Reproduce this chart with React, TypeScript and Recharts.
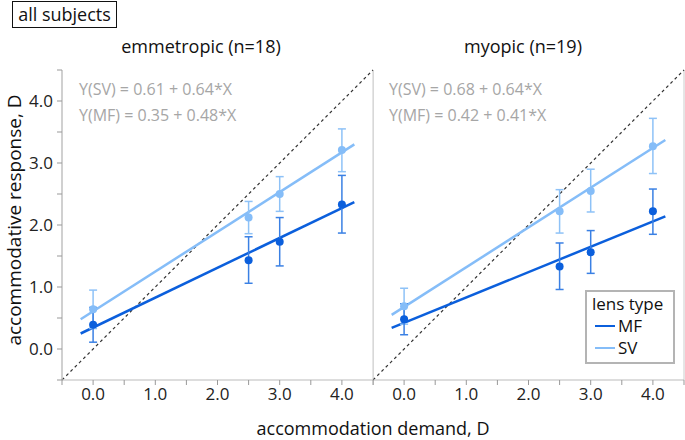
import React from 'react';
import { ComposedChart, Scatter, Line, XAxis, YAxis, ErrorBar, ReferenceLine } from 'recharts';

// accommodation demand (D) for every measurement
const demand = [0, 2.5, 3, 4];

// emmetropic group (n=18)
const emmMF = [0.39, 1.43, 1.73, 2.33];
const emmMFLow = [0.11, 1.06, 1.34, 1.87];
const emmMFHigh = [0.67, 1.81, 2.12, 2.8];
const emmSV = [0.64, 2.12, 2.5, 3.21];
const emmSVLow = [0.33, 1.86, 2.22, 2.86];
const emmSVHigh = [0.95, 2.38, 2.78, 3.55];

// myopic group (n=19)
const myoMF = [0.48, 1.33, 1.56, 2.22];
const myoMFLow = [0.23, 0.96, 1.22, 1.85];
const myoMFHigh = [0.73, 1.71, 1.91, 2.58];
const myoSV = [0.69, 2.22, 2.55, 3.27];
const myoSVLow = [0.4, 1.87, 2.21, 2.83];
const myoSVHigh = [0.98, 2.57, 2.9, 3.72];

// regression line end points
const fitX = [-0.2, 4.2];
const emmFitSV = [0.48, 3.3];
const emmFitMF = [0.25, 2.37];
const myoFitSV = [0.55, 3.37];
const myoFitMF = [0.34, 2.14];

const axisTicks = [-0.5, 0, 0.5, 1, 1.5, 2, 2.5, 3, 3.5, 4, 4.5];
const lensTypes = ['MF', 'SV'];

const MF_COLOR = '#0b5fdc';
const MF_BAR = '#3a80e4';
const SV_COLOR = '#85bdf8';
const SV_BAR = '#8ec2f7';
const FONT = '"Open Sans", "Noto Sans", sans-serif';

const points = (ys: number[], lo: number[], hi: number[]) =>
  demand.map((x, i) => ({ x, y: ys[i], err: [ys[i] - lo[i], hi[i] - ys[i]] }));

const fitLine = (ys: number[]) => fitX.map((x, i) => ({ x, y: ys[i] }));

const fmt = (v: number) => (Number.isInteger(v) ? v.toFixed(1) : '');

const dot = (color: string) => (p: any) => <circle cx={p.cx} cy={p.cy} r={4} fill={color} />;

const LegendBox = () => (
  <div
    style={{
      position: 'absolute',
      left: 585,
      top: 290,
      width: 81,
      border: '2px solid #b4b4b4',
      background: '#fff',
      padding: '1px 0 3px 5px',
      fontSize: 17,
      lineHeight: '22px',
      color: '#111',
    }}
  >
    <div>lens type</div>
    {lensTypes.map((name, i) => (
      <div key={name} style={{ display: 'flex', alignItems: 'center' }}>
        <span
          style={{
            display: 'inline-block',
            width: 20,
            height: 2.5,
            background: i === 0 ? MF_COLOR : SV_COLOR,
            margin: '0 3px 0 3px',
          }}
        />
        {name}
      </div>
    ))}
  </div>
);

interface PanelProps {
  mf: any[];
  sv: any[];
  fitMF: any[];
  fitSV: any[];
  width: number;
  showY: boolean;
}

const Panel: React.FC<PanelProps> = ({ mf, sv, fitMF, fitSV, width, showY }) => (
  <ComposedChart
    width={width}
    height={440}
    margin={{ top: 70, right: showY ? 7 : 1, bottom: 30, left: 0 }}
  >
    <XAxis
      type="number"
      dataKey="x"
      domain={[-0.5, 4.5]}
      ticks={axisTicks}
      interval={0}
      allowDataOverflow
      tickFormatter={fmt}
      height={30}
      tickSize={5}
      tickMargin={3}
      axisLine={{ stroke: '#bbb' }}
      tickLine={{ stroke: '#999' }}
      tick={{ fontSize: 17, fill: '#222', fontFamily: FONT }}
    />
    <YAxis
      type="number"
      domain={[-0.5, 4.5]}
      ticks={axisTicks}
      interval={0}
      allowDataOverflow
      hide={!showY}
      width={62}
      tickFormatter={fmt}
      tickSize={5}
      tickMargin={4}
      axisLine={{ stroke: '#bbb' }}
      tickLine={{ stroke: '#999' }}
      tick={{ fontSize: 17, fill: '#222', fontFamily: FONT }}
    />
    <ReferenceLine x={-0.5} stroke="#ccc" />
    <ReferenceLine x={4.5} stroke="#ccc" />
    <ReferenceLine
      segment={[
        { x: -0.5, y: -0.5 },
        { x: 4.5, y: 4.5 },
      ]}
      stroke="#333"
      strokeDasharray="3 3"
      strokeWidth={1.2}
    />
    <Line data={fitSV} dataKey="y" type="linear" stroke={SV_COLOR} strokeWidth={2.5} dot={false} isAnimationActive={false} />
    <Line data={fitMF} dataKey="y" type="linear" stroke={MF_COLOR} strokeWidth={2.5} dot={false} isAnimationActive={false} />
    <Scatter data={sv} dataKey="y" shape={dot(SV_COLOR)} isAnimationActive={false}>
      <ErrorBar dataKey="err" direction="y" width={4} stroke={SV_BAR} strokeWidth={1.5} />
    </Scatter>
    <Scatter data={mf} dataKey="y" shape={dot(MF_COLOR)} isAnimationActive={false}>
      <ErrorBar dataKey="err" direction="y" width={4} stroke={MF_BAR} strokeWidth={1.5} />
    </Scatter>
  </ComposedChart>
);

const eqStyle: React.CSSProperties = {
  position: 'absolute',
  fontSize: 16,
  color: '#a6a6a6',
  whiteSpace: 'nowrap',
};

const titleStyle: React.CSSProperties = {
  position: 'absolute',
  top: 34,
  fontSize: 18,
  color: '#111',
  whiteSpace: 'nowrap',
  transform: 'translateX(-50%)',
};

export default function App() {
  return (
    <div
      style={{
        position: 'absolute',
        left: 0,
        top: 0,
        width: 685,
        height: 440,
        background: '#fff',
        fontFamily: FONT,
        overflow: 'hidden',
      }}
    >
      <div style={{ position: 'absolute', left: 0, top: 0 }}>
        <Panel
          mf={points(emmMF, emmMFLow, emmMFHigh)}
          sv={points(emmSV, emmSVLow, emmSVHigh)}
          fitMF={fitLine(emmFitMF)}
          fitSV={fitLine(emmFitSV)}
          width={380}
          showY
        />
      </div>
      <div style={{ position: 'absolute', left: 373, top: 0 }}>
        <Panel
          mf={points(myoMF, myoMFLow, myoMFHigh)}
          sv={points(myoSV, myoSVLow, myoSVHigh)}
          fitMF={fitLine(myoFitMF)}
          fitSV={fitLine(myoFitSV)}
          width={312}
          showY={false}
        />
      </div>

      <LegendBox />

      <div
        style={{
          position: 'absolute',
          left: 12,
          top: 1,
          width: 103,
          height: 25,
          border: '1px solid #111',
          fontSize: 18,
          lineHeight: '25px',
          textAlign: 'center',
          color: '#111',
        }}
      >
        all subjects
      </div>

      <div style={{ ...titleStyle, left: 201 }}>emmetropic (n=18)</div>
      <div style={{ ...titleStyle, left: 523 }}>myopic (n=19)</div>

      <div style={{ ...eqStyle, left: 79, top: 78 }}>Y(SV) = 0.61 + 0.64*X</div>
      <div style={{ ...eqStyle, left: 79, top: 104 }}>Y(MF) = 0.35 + 0.48*X</div>
      <div style={{ ...eqStyle, left: 389, top: 78 }}>Y(SV) = 0.68 + 0.64*X</div>
      <div style={{ ...eqStyle, left: 389, top: 104 }}>Y(MF) = 0.42 + 0.41*X</div>

      <div
        style={{
          position: 'absolute',
          left: 373,
          top: 416,
          transform: 'translateX(-50%)',
          fontSize: 18,
          color: '#111',
          whiteSpace: 'nowrap',
        }}
      >
        accommodation demand, D
      </div>
      <div
        style={{
          position: 'absolute',
          left: 14,
          top: 220,
          transform: 'translate(-50%, -50%) rotate(-90deg)',
          fontSize: 19,
          color: '#111',
          whiteSpace: 'nowrap',
        }}
      >
        accommodative response, D
      </div>
    </div>
  );
}
